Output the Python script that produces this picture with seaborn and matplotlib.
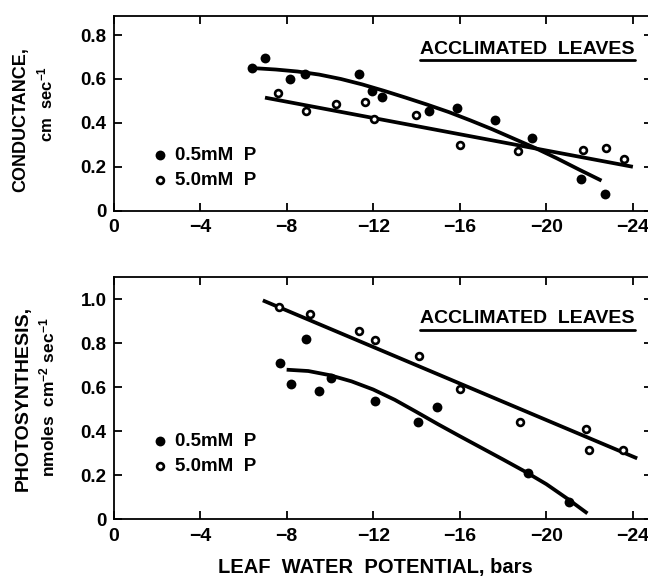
import numpy as np
import pandas as pd
import matplotlib
matplotlib.use("Agg")
import matplotlib.pyplot as plt
import seaborn as sns

# leaf water potential (bars) and responses
cond_05_x = [-6.4, -7.0, -8.15, -8.85, -11.35, -11.95, -12.4, -14.6, -15.85, -17.65, -19.35, -21.6, -22.7]
cond_05_y = [0.650, 0.695, 0.598, 0.621, 0.623, 0.545, 0.518, 0.456, 0.467, 0.413, 0.333, 0.145, 0.075]
cond_50_x = [-7.6, -8.9, -10.3, -11.6, -12.05, -14.0, -16.0, -18.7, -21.7, -22.75, -23.6]
cond_50_y = [0.534, 0.454, 0.484, 0.493, 0.416, 0.434, 0.297, 0.270, 0.277, 0.285, 0.237]

photo_05_x = [-7.7, -8.2, -8.9, -9.5, -10.05, -12.1, -14.05, -14.95, -19.15, -21.05]
photo_05_y = [0.709, 0.614, 0.818, 0.583, 0.641, 0.536, 0.443, 0.512, 0.209, 0.080]
photo_50_x = [-7.65, -9.1, -11.35, -12.1, -14.1, -16.0, -18.8, -21.85, -21.95, -23.55]
photo_50_y = [0.964, 0.934, 0.854, 0.815, 0.744, 0.591, 0.444, 0.410, 0.314, 0.314]

# fitted curves as drawn in the figure
cond_05_fit_x = [-6.35, -7.5, -8.5, -9.5, -10.5, -11.5, -12.5, -13.5, -14.5, -15.5, -16.5,
                 -17.5, -18.5, -19.5, -20.5, -21.5, -22.55]
cond_05_fit_y = [0.650, 0.643, 0.634, 0.620, 0.600, 0.575, 0.546, 0.515, 0.483, 0.449, 0.411,
                 0.371, 0.328, 0.285, 0.238, 0.188, 0.137]
cond_50_fit_x = [-7.0, -24.0]
cond_50_fit_y = [0.515, 0.200]

photo_05_fit_x = [-8.0, -9.0, -10.0, -11.0, -12.0, -13.0, -14.0, -15.0, -16.0, -17.0, -18.0,
                  -19.0, -20.0, -21.0, -21.9]
photo_05_fit_y = [0.680, 0.674, 0.655, 0.627, 0.590, 0.543, 0.488, 0.432, 0.378, 0.325, 0.272,
                  0.218, 0.160, 0.092, 0.027]
photo_50_fit_x = [-6.9, -24.2]
photo_50_fit_y = [0.995, 0.277]

x_ticks = [0, -4, -8, -12, -16, -20, -24]
x_tick_labels = ["0", "\u22124", "\u22128", "\u221212", "\u221216", "\u221220", "\u221224"]
cond_ticks = [0, 0.2, 0.4, 0.6, 0.8]
cond_tick_labels = ["0", "0.2", "0.4", "0.6", "0.8"]
photo_ticks = [0, 0.2, 0.4, 0.6, 0.8, 1.0]
photo_tick_labels = ["0", "0.2", "0.4", "0.6", "0.8", "1.0"]
series_labels = ["0.5mM  P", "5.0mM  P"]

sns.set_theme(style="ticks")
plt.rcParams["font.family"] = ["Liberation Sans", "DejaVu Sans"]
plt.rcParams["font.weight"] = "bold"
plt.rcParams["axes.labelweight"] = "bold"
plt.rcParams["text.color"] = "black"
plt.rcParams["axes.labelcolor"] = "black"
plt.rcParams["xtick.color"] = "black"
plt.rcParams["ytick.color"] = "black"
plt.rcParams["mathtext.fontset"] = "custom"
plt.rcParams["mathtext.rm"] = "Liberation Sans:bold"
plt.rcParams["mathtext.bf"] = "Liberation Sans:bold"
plt.rcParams["mathtext.default"] = "rm"


def draw_panel(ax, fx, fy, ox, oy, ffx, ffy, ofx, ofy, yticks, ylabels, ymax, leg_y):
    filled = pd.DataFrame({"x": fx, "y": fy})
    opened = pd.DataFrame({"x": ox, "y": oy})
    sns.lineplot(x=ffx, y=ffy, ax=ax, color="black", lw=2.7, sort=False,
                 estimator=None, solid_capstyle="butt")
    sns.lineplot(x=ofx, y=ofy, ax=ax, color="black", lw=2.7, sort=False,
                 estimator=None, solid_capstyle="butt")
    sns.scatterplot(data=filled, x="x", y="y", ax=ax, s=50, color="black",
                    edgecolor="black", linewidth=0, label=series_labels[0], zorder=3)
    sns.scatterplot(data=opened, x="x", y="y", ax=ax, s=24, facecolor="white",
                    edgecolor="black", linewidth=1.9, label=series_labels[1], zorder=3)

    ax.set_xlim(0, -24.9)
    ax.set_ylim(0, ymax)
    ax.set_xticks(x_ticks)
    ax.set_xticklabels(x_tick_labels, fontsize=14, fontweight="bold")
    ax.set_yticks(yticks)
    ax.set_yticklabels(ylabels, fontsize=13.5, fontweight="bold")
    ax.tick_params(direction="in", length=6, width=1.3, top=True, right=True, color="black")
    ax.tick_params(axis="x", pad=6)
    ax.tick_params(axis="y", pad=5)
    for sp in ax.spines.values():
        sp.set_visible(True)
        sp.set_linewidth(1.3)
        sp.set_color("black")
    ax.set_xlabel("")
    ax.set_ylabel("")

    leg = ax.legend(loc="center left", frameon=False, fontsize=13.5, handlelength=1.0,
                    handletextpad=0.3, labelspacing=0.4, borderpad=0, borderaxespad=0,
                    bbox_to_anchor=(0.069, leg_y))
    for t in leg.get_texts():
        t.set_fontweight("bold")


# right spine sits just past the image edge, as in the original scan
fig = plt.figure(figsize=(6.48, 5.76), dpi=100)
ax1 = fig.add_axes([0.1752, 0.6342, 0.8315, 0.3385])
ax2 = fig.add_axes([0.1752, 0.0984, 0.8315, 0.4202])

draw_panel(ax1, cond_05_x, cond_05_y, cond_50_x, cond_50_y,
           cond_05_fit_x, cond_05_fit_y, cond_50_fit_x, cond_50_fit_y,
           cond_ticks, cond_tick_labels, 0.888, 0.22)
draw_panel(ax2, photo_05_x, photo_05_y, photo_50_x, photo_50_y,
           photo_05_fit_x, photo_05_fit_y, photo_50_fit_x, photo_50_fit_y,
           photo_ticks, photo_tick_labels, 1.1, 0.27)

# panel titles with underline
for ax, ty, uy in [(ax1, 0.805, 0.772), (ax2, 0.812, 0.782)]:
    ax.text(0.9675, ty, "ACCLIMATED  LEAVES", transform=ax.transAxes, ha="right",
            va="baseline", fontsize=14, fontweight="bold")
    ax.plot([0.5685, 0.9675], [uy, uy], transform=ax.transAxes, color="black", lw=2)

# y labels
fig.text(21 / 648, 1 - 120 / 576, "CONDUCTANCE,", rotation=90, ha="center", va="center",
         fontsize=13, fontweight="bold")
fig.text(45 / 648, 1 - 104 / 576, "cm  sec$^{-1}$", rotation=90, ha="center", va="center",
         fontsize=12, fontweight="bold")
fig.text(23 / 648, 1 - 398 / 576, "PHOTOSYNTHESIS,", rotation=90, ha="center", va="center",
         fontsize=14, fontweight="bold")
fig.text(47 / 648, 1 - 397 / 576, "nmoles  cm$^{-2}$ sec$^{-1}$", rotation=90, ha="center",
         va="center", fontsize=12.5, fontweight="bold")

fig.text(375 / 648, 1 - 568 / 576, "LEAF  WATER  POTENTIAL, bars", ha="center", va="center",
         fontsize=14.5, fontweight="bold")

fig.savefig("out.png", dpi=100)
